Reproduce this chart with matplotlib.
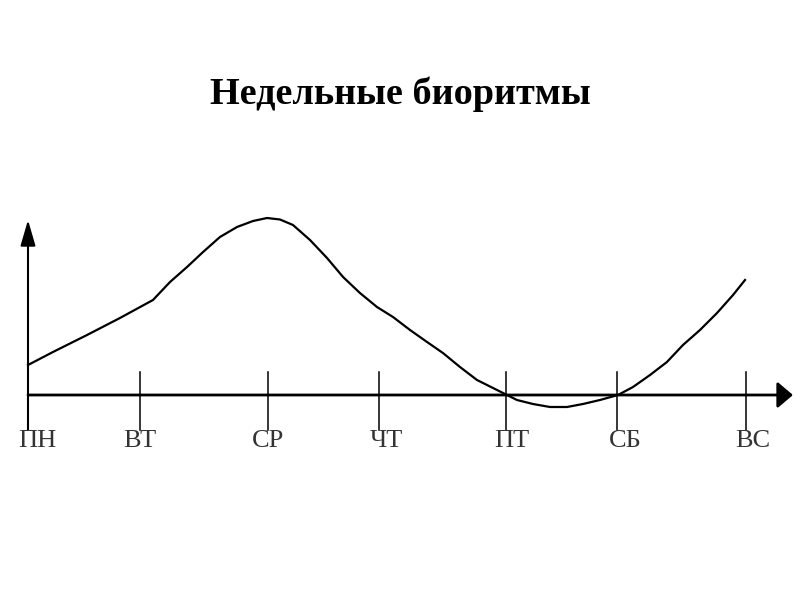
import numpy as np
import matplotlib.pyplot as plt

# дни недели и положения делений
days = ['ПН', 'ВТ', 'СР', 'ЧТ', 'ПТ', 'СБ', 'ВС']
day_pos = [0.0, 1.0, 2.14, 3.13, 4.27, 5.26, 6.41]

# кривая биоритма
curve_x = [0.0, 0.223, 0.527, 0.821, 1.116, 1.268, 1.42, 1.563, 1.714, 1.866,
           2.009, 2.134, 2.25, 2.366, 2.518, 2.67, 2.813, 2.964, 3.116, 3.259,
           3.411, 3.563, 3.705, 3.857, 4.009, 4.152, 4.277, 4.366, 4.509, 4.661,
           4.813, 4.955, 5.107, 5.268, 5.402, 5.554, 5.705, 5.848, 6.0, 6.152,
           6.295, 6.402]
curve_y = [3.0, 4.3, 6.0, 7.7, 9.5, 11.3, 12.8, 14.3, 15.8, 16.8,
           17.4, 17.7, 17.55, 17.0, 15.5, 13.7, 11.8, 10.2, 8.8, 7.8,
           6.5, 5.3, 4.2, 2.8, 1.5, 0.7, 0.0, -0.5, -0.9, -1.2,
           -1.2, -0.9, -0.5, 0.0, 0.8, 2.0, 3.3, 5.0, 6.5, 8.2,
           10.0, 11.5]

fig = plt.figure(figsize=(8, 6), dpi=100)
ax = fig.add_axes([0, 0, 1, 1])
ax.set_xlim(-0.25, 6.893)
ax.set_ylim(-20.5, 39.5)
ax.axis('off')

# оси со стрелками
ax.annotate('', xy=(6.83, 0), xytext=(0, 0),
            arrowprops=dict(arrowstyle='-|>,head_length=0.47,head_width=0.4',
                            mutation_scale=20, color='black', lw=2,
                            shrinkA=0, shrinkB=0))
ax.annotate('', xy=(0, 17.5), xytext=(0, -3.5),
            arrowprops=dict(arrowstyle='-|>,head_length=0.79,head_width=0.23',
                            mutation_scale=20, color='black', lw=1.5,
                            shrinkA=0, shrinkB=0))

# деления и подписи
shift_px = [9, 0, 0, 8, 6, 8, 7]
for p, d, s in zip(day_pos, days, shift_px):
    if p > 0:
        ax.plot([p, p], [2.3, -3.5], color='black', lw=1.1)
    ax.text(p + s / 112, -4.6, d, ha='center', va='center', fontsize=19,
            family='Liberation Serif', color='#333333')

ax.plot(curve_x, curve_y, color='black', lw=1.6, solid_joinstyle='round')

fig.text(0.5, 1 - 104 / 600, 'Недельные биоритмы', ha='center', va='baseline',
         fontsize=27.5, fontweight='bold', family='Liberation Serif')

fig.savefig('out.png', dpi=100)
